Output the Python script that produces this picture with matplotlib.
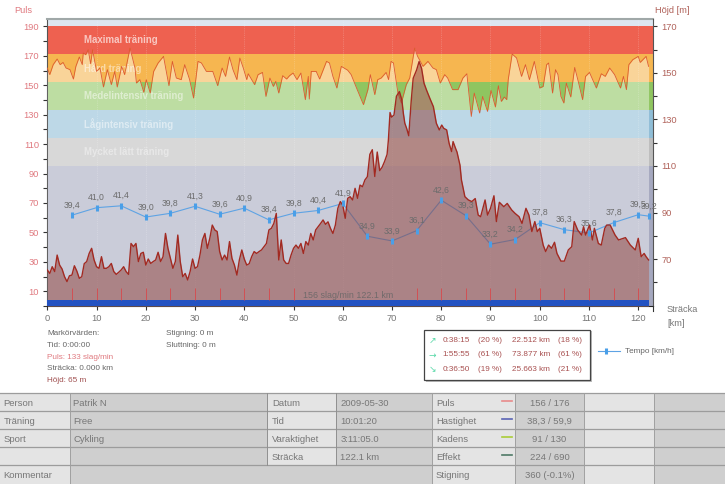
import matplotlib
matplotlib.use('Agg')
import matplotlib.pyplot as plt
from matplotlib.patches import Rectangle

plt.rcParams['font.family'] = ['Liberation Sans', 'DejaVu Sans']

# pulse curve (km, slag/min)
puls_km = [0, .5, 1.2, 2, 2.6, 3.2, 3.8, 4.6, 5.3, 5.8, 6.5, 7.1, 7.3, 7.8, 8.3, 8.8, 9.2, 10, 10.7, 11.4,
           12.2, 13, 13.7, 14.2, 15.1, 15.7, 16.8, 17.8, 18.1, 18.8, 19.6, 20.1, 20.9, 21.6, 22.5, 23.6, 24.7, 25.4, 26.2, 27.2,
           27.9, 28.9, 29.7, 30.6, 31.3, 32.3, 33.6, 34.6, 35.5, 36.2, 37, 37.7, 38.5, 39.1, 39.8, 40.5, 40.8, 41.5, 42.1, 42.8,
           43.7, 44.4, 45.2, 45.9, 46.4, 47, 47.8, 48.6, 49.2, 49.9, 50.7, 51.5, 52.4, 53, 53.2, 53.6, 54.6, 55.3, 56.7, 57.3,
           58, 58.8, 59.7, 61, 61.7, 62.8, 64.2, 65.1, 65.6, 66.5, 67.1, 67.8, 68.8, 69.3, 69.8, 70.3, 71.2, 71.9, 72.9, 73.6,
           74.6, 75.2, 76.3, 77.3, 78.3, 79, 79.8, 80.7, 81.3, 82.3, 83.4, 84.4, 85.2, 86.1, 86.7, 87.8, 88.4, 89.4, 90.1, 91,
           91.6, 92.2, 92.8, 93.3, 93.6, 94.4, 95.3, 96.3, 97.1, 97.9, 98.9, 100, 100.7, 101.4, 101.8, 102.6, 103.2, 103.7, 104.3, 104.9,
           105.4, 106.3, 107.1, 107.9, 108.7, 109.3, 110.1, 111.5, 112.5, 113.3, 114.2, 115.2, 116.4, 117, 117.6, 118.1, 118.9, 120, 120.4, 121.6,
           122.1]
puls_bpm = [161.7, 157.2, 164, 167.8, 164, 165.5, 161.7, 160.6, 154.2, 162.8, 169.2, 164, 171.9, 170.7, 174.1, 164.6, 174.1, 159.4, 161.7, 148.8,
            160.6, 150.4, 159.4, 148.8, 162.8, 157.2, 175.3, 161.7, 151.5, 153.8, 145.2, 153.8, 144.7, 159.4, 165.1, 169.6, 149.7, 166.2, 154.9, 153.8,
            164, 153.8, 141.3, 166.2, 165.1, 159.4, 159.4, 149.7, 161.7, 156, 169.2, 160.6, 153.8, 168.5, 161.7, 153.8, 157.8, 153.8, 150.4, 157.2,
            158.7, 142.4, 154.9, 149.2, 152.6, 144.7, 156.5, 154.2, 156.5, 158.3, 153.8, 158.3, 140.2, 156, 140.6, 159.4, 159.4, 154.2, 166.2, 165.1,
            156, 148.1, 162.8, 160.2, 157.2, 148.1, 136.8, 147, 157.2, 143.6, 153.8, 154.9, 158.7, 153.8, 166.2, 165.1, 144.7, 137.9, 150.4, 154.9,
            175.3, 169.6, 162.8, 166.2, 161.7, 160.6, 151.5, 157.2, 154.9, 147, 147, 154.9, 157.8, 128.8, 144.7, 131.1, 142.4, 132.2, 146.5, 135.2,
            149.7, 139, 142, 140.2, 153.8, 171.2, 168.5, 156, 164, 153.8, 166.2, 148.1, 149.2, 164, 165.1, 144.7, 160.6, 157.2, 142.4, 137.9,
            151.5, 142, 162.1, 151.5, 140.2, 156, 158.7, 148.1, 157.8, 156, 161.7, 157.2, 148.1, 156, 147, 164, 167.4, 169.6, 165.5, 169.6,
            162.8]

# height curve (km, m)
hojd_km = [0, .5, 1, 1.5, 2, 2.5, 3, 3.5, 4, 4.5, 5, 5.5, 6, 6.5, 7, 7.5, 8, 8.5, 9, 9.5,
           10, 10.5, 11, 11.5, 12, 12.5, 13, 13.5, 14, 14.5, 15, 15.5, 16, 16.5, 17, 17.5, 18, 18.5, 19, 19.5,
           20, 20.5, 21, 21.5, 22, 22.5, 23, 23.5, 24, 24.5, 25, 25.5, 26, 26.5, 27, 27.5, 28, 28.5, 29, 29.5,
           30, 30.5, 31, 31.5, 32, 32.5, 33, 33.5, 34, 34.5, 35, 35.5, 36, 36.5, 37, 37.5, 38, 38.5, 39, 39.5,
           40, 40.5, 41, 41.5, 42, 42.5, 43, 43.5, 44, 44.5, 45, 45.5, 46, 46.5, 47, 47.5, 48, 48.5, 49, 49.5,
           50, 50.5, 51, 51.5, 52, 52.5, 53, 53.5, 54, 54.5, 55, 55.5, 56, 56.5, 57, 57.5, 58, 58.5, 59, 59.5,
           60, 60.5, 61, 61.5, 62, 62.5, 63, 63.5, 64, 64.5, 65, 65.5, 66, 66.5, 67, 67.5, 68, 68.5, 69, 69.26,
           69.6, 69.9, 70.4, 70.9, 71.5, 72, 72.3, 72.6, 73, 73.4, 73.9, 74.3, 75, 75.5, 76, 76.5, 77, 77.7, 78.4, 79,
           79.6, 80.1, 80.5, 81.1, 81.6, 82.1, 82.4, 82.9, 83.2, 83.8, 84.1, 84.8, 85.5, 86.2, 86.9, 87.5, 88, 88.9, 89.4, 90,
           90.7, 91.2, 91.8, 92.7, 93.4, 94.3, 95, 95.8, 96.4, 97.2, 97.8, 98.4, 99, 99.5, 100, 100.7, 101.2, 101.8, 102.4, 103,
           103.5, 104.3, 105, 105.8, 106.5, 107, 107.7, 108.5, 108.9, 109.3, 110.1, 110.7, 111.1, 111.9, 112.5, 113.2, 113.6, 114.3, 115.3, 116,
           117.4, 118.4, 119.4, 120, 120.6, 121.2, 121.6, 122.1]
hojd_m = [65.3, 63.8, 66.7, 64.6, 71.7, 67.4, 65.7, 62.4, 60.3, 62.8, 63.1, 67.1, 64.8, 61.7, 62.4, 68, 68.9, 72.4, 74.6, 69.6,
          66.7, 66, 71, 66, 66, 66.7, 68.1, 64.6, 63.4, 64.3, 65.3, 66.7, 64.6, 63.4, 76.7, 75.3, 76.7, 68.9, 72.4, 72.9,
          67.4, 70, 68.1, 68.9, 69.6, 72.9, 68.9, 71, 81, 74.6, 70.3, 66, 68.9, 80.3, 68.9, 62.4, 63.8, 61, 64.6, 70,
          66, 66.7, 71.7, 78.2, 81, 74.6, 78.9, 84.6, 82.5, 81.8, 73.2, 69.6, 71.7, 69.6, 77.5, 70.3, 67.4, 63.1, 69.6, 73.9,
          70, 67.4, 68, 71, 73.2, 72.4, 73.2, 73.9, 75.3, 76.7, 82.5, 83.2, 85.3, 89.6, 69.6, 78.2, 69.6, 68.1, 68.1, 71.7,
          74.6, 76, 74.6, 76.7, 72.4, 77.5, 76, 81, 78.2, 82.5, 83.9, 85.3, 86.8, 84.9, 86, 83.2, 81, 84.6, 91.8, 94.7,
          93.2, 87.5, 96.1, 96.8, 95.4, 100.4, 96.1, 101.8, 101.1, 104, 105.4, 115, 117, 105.5, 116, 108, 109.5, 112, 115, 121,
          133, 131, 131.9, 140, 142, 138.4, 132.7, 128.4, 126, 123, 138, 147.7, 151.3, 154.9, 152, 145.6, 142.7, 139, 135.5, 128.4,
          125.5, 127.6, 126.2, 125.5, 119.7, 116.2, 120.5, 117.6, 116, 110.4, 104, 96.8, 95.4, 94.7, 96, 88.9, 88.2, 95.4, 88.9, 91.8,
          97.2, 86.1, 94.4, 92.5, 93.9, 91.1, 89.6, 88.2, 85.3, 91.8, 88.9, 81.8, 86.1, 81.8, 83.2, 76, 73.2, 76, 74.6, 77.2,
          72.4, 69.1, 69.1, 73.9, 75.3, 86.1, 82.5, 80.3, 83.9, 80.3, 84.6, 78.2, 83.2, 76.7, 76, 83.2, 84.6, 84.6, 80.3, 78.2,
          79.2, 76, 73.9, 78.9, 71, 72.4, 71, 69.6]

# tempo per 5 km
tempo_km = [5, 10, 15, 20, 25, 30, 35, 40, 45, 50, 55, 60, 65, 70, 75, 80, 85, 90, 95, 100, 105, 110, 115, 120, 122.1]
tempo_kmh = [39.4, 41.0, 41.4, 39.0, 39.8, 41.3, 39.6, 40.9, 38.4, 39.8, 40.4, 41.9, 34.9, 33.9, 36.1, 42.6, 39.3,
             33.2, 34.2, 37.8, 36.3, 35.6, 37.8, 39.5, 39.2]
km_marks = [5, 10, 15, 20, 25, 30, 35, 40, 45, 50, 75, 80, 85, 90, 95, 100, 105, 110, 115, 120]

# training zones
zone_edges = [190, 171, 152, 133, 114, 95, 0]
zone_colors = ['#ee6150', '#f6b650', '#8fc560', '#8fbdd6', '#bdbdbd', '#a5a8bf']
zone_names = ['Maximal träning', 'Hård träning', 'Medelintensiv träning', 'Lågintensiv träning', 'Mycket lätt träning']
zone_alpha = [0.65, 0.5, 0.5, 0.5, 0.4]

W, H = 725, 484
AX_L, AX_R, AX_T, AX_B = 47.3, 653, 19, 306
RED = '#e07a80'
BROWN = '#b0625a'
GREY = '#777777'

fig = plt.figure(figsize=(W / 100, H / 100), dpi=100)
rect = [AX_L / W, 1 - AX_B / H, (AX_R - AX_L) / W, (AX_B - AX_T) / H]
ax = fig.add_axes(rect)
ax.set_xlim(0, 123)
ax.set_ylim(0, 195)
ax.set_facecolor('#dde6f0')

for i, c in enumerate(zone_colors):
    ax.axhspan(zone_edges[i + 1], zone_edges[i], color=c, lw=0, zorder=1)
for i, name in enumerate(zone_names):
    ax.text(7.4, (zone_edges[i] + zone_edges[i + 1]) / 2, name, color='white', alpha=zone_alpha[i],
            fontsize=6.9, fontweight='bold', va='center', zorder=2)
for k in range(10, 121, 10):
    ax.axvline(k, color='white', lw=0.5, ls=':', alpha=0.35, zorder=2)

ax.fill_between(puls_km, puls_bpm, 0, color='white', alpha=0.42, lw=0, zorder=3)
ax.plot(puls_km, puls_bpm, color='#dc5a30', lw=0.6, zorder=4)

ax.set_xticks(range(0, 121, 10))
ax.set_yticks(range(10, 191, 20))
ax.set_yticks(range(0, 191, 20), minor=True)
ax.tick_params(axis='x', length=3, width=0.8, color='#333333', labelcolor=GREY, labelsize=6.7, pad=3)
ax.tick_params(axis='y', which='both', length=3, width=0.8, color='#333333')
ax.tick_params(axis='y', labelcolor=RED, labelsize=6.7, pad=3)
ax.spines['right'].set_visible(False)
ax.spines['left'].set_color('#555555')
ax.spines['bottom'].set_color('#222222')
ax.spines['top'].set_color('#a0a8a8')
ax.spines['top'].set_linewidth(1.5)

# tempo line goes under the height fill, markers above it
ax_line = ax.twinx()
ax_line.set_ylim(20, 81.3)
ax_line.set_zorder(2)
ax_line.axis('off')
ax_line.plot(tempo_km, tempo_kmh, color='#5ea3e4', lw=0.8)

ax2 = ax.twinx()
ax2.set_ylim(49.8, 173.2)
ax2.set_zorder(3)
ax2.fill_between(hojd_km, hojd_m, 49.8, color='#8f403a', alpha=0.52, lw=0)
ax2.plot(hojd_km, hojd_m, color='#a22a22', lw=1.0)
ax2.set_yticks(range(70, 171, 20))
ax2.set_yticks(range(60, 171, 20), minor=True)
ax2.tick_params(axis='y', which='both', length=3, width=0.8, color='#333333')
ax2.tick_params(axis='y', labelcolor=BROWN, labelsize=6.7, pad=3)
for s in ['left', 'top', 'bottom']:
    ax2.spines[s].set_visible(False)
ax2.spines['right'].set_color('#555555')

# km marks and the blue bar at the bottom sit on top of the fill
ax_bar = ax.twinx()
ax_bar.set_ylim(0, 195)
ax_bar.set_zorder(4)
ax_bar.axis('off')
ax_bar.vlines(km_marks, 4, 12, color='#d8484c', lw=0.6)
ax_bar.fill_between([0, 122.1], 0, 4, color='#2352c2', lw=0)

ax_pts = ax.twinx()
ax_pts.set_ylim(20, 81.3)
ax_pts.set_zorder(4.5)
ax_pts.axis('off')
ax_pts.plot(tempo_km, tempo_kmh, ls='none', marker='|', ms=5, mew=2.2, color='#4a9fe8')
for k, t in zip(tempo_km, tempo_kmh):
    ax_pts.annotate(f'{t:.1f}'.replace('.', ','), (k, t), xytext=(0, 4), textcoords='offset points',
                    ha='center', va='bottom', fontsize=6.2, color='#6c6c6c')

# everything around the plot, in pixels
ov = fig.add_axes([0, 0, 1, 1], zorder=5)
ov.set_xlim(0, W)
ov.set_ylim(H, 0)
ov.axis('off')


def txt(x, y, s, color=GREY, size=5.9, **kw):
    ov.text(x, y + 0.8, s, color=color, fontsize=size, va='center', **kw)


txt(347.7, 295, '156 slag/min 122.1 km', color='#666666', size=6.4, ha='center', alpha=0.85)
txt(14, 10, 'Puls', color=RED, size=6.7)
txt(655, 10, 'Höjd [m]', color=BROWN, size=6.7)
txt(667, 309, 'Sträcka', size=6.7)
txt(667, 323, '[km]', size=6.7)
ov.plot([AX_R, AX_R], [AX_B, 311], color='#333333', lw=0.8)

marker_lines = ['Markörvärden:', 'Tid: 0:00:00', 'Puls: 133 slag/min', 'Sträcka: 0.000 km', 'Höjd: 65 m']
marker_colors = ['#666666', '#666666', RED, '#666666', '#a05050']
for i, s in enumerate(marker_lines):
    txt(47.5, 333 + i * 11.7, s, color=marker_colors[i])
txt(166, 333, 'Stigning: 0 m', color='#666666')
txt(166, 345, 'Sluttning: 0 m', color='#666666')

# up/flat/down box
ov.add_patch(Rectangle((426, 331), 166, 51, fc='#bbbbbb', ec='none', zorder=1))
ov.add_patch(Rectangle((424.5, 329.5), 165.5, 50.5, fc='white', ec='#444444', lw=0.9, zorder=2))
box_rows = [('↗', '0:38:15', '(20 %)', '22.512 km', '(18 %)'),
            ('→', '1:55:55', '(61 %)', '73.877 km', '(61 %)'),
            ('↘', '0:36:50', '(19 %)', '25.663 km', '(21 %)')]
for i, row in enumerate(box_rows):
    y = 340.3 + i * 14.7
    ov.text(432.5, y, row[0], color='#58d8a8', fontsize=6.5, family='DejaVu Sans', ha='center', va='center', zorder=3)
    for x, s in zip([442.7, 478.3, 511.7, 558.3], row[1:]):
        ov.text(x, y, s, color='#a85050', fontsize=5.9, va='center', zorder=3)

ov.plot([598, 620], [351, 351], color='#5ea3e4', lw=0.8)
ov.plot([606], [351], ls='none', marker='|', ms=5, mew=2.2, color='#4a9fe8')
txt(625, 350.5, 'Tempo [km/h]', color='#666666')

# info table
col_x = [0, 70, 267, 336, 432, 515, 584.5, 654, 725]
row_y = [392.5, 410.5, 428.5, 446.5, 464.5, 484]
cell_light = '#e4e4e4'
cell_dark = '#cfcfcf'
for r in range(5):
    for c in range(8):
        if r == 4 and c in (1, 2, 3):
            continue
        col = cell_light if c % 2 == 0 else cell_dark
        ov.add_patch(Rectangle((col_x[c], row_y[r]), col_x[c + 1] - col_x[c], row_y[r + 1] - row_y[r],
                               fc=col, ec='none', zorder=1))
ov.add_patch(Rectangle((col_x[1], row_y[4]), col_x[4] - col_x[1], row_y[5] - row_y[4], fc=cell_dark, ec='none', zorder=1))
for y in row_y[:-1]:
    ov.plot([0, W], [y, y], color='#9c9c9c', lw=0.9, zorder=2)
for x in [70, 432, 515, 584.5, 654]:
    ov.plot([x, x], [row_y[0], H], color='#a0a0a0', lw=0.7, zorder=2)
for x in [267, 336]:
    ov.plot([x, x], [row_y[0], row_y[4]], color='#909090', lw=0.7, zorder=2)

tab_col1 = ['Person', 'Träning', 'Sport', '', 'Kommentar']
tab_col2 = ['Patrik N', 'Free', 'Cykling', '', '']
tab_col3 = ['Datum', 'Tid', 'Varaktighet', 'Sträcka']
tab_col4 = ['2009-05-30', '10:01:20', '3:11:05.0', '122.1 km']
tab_col5 = ['Puls', 'Hastighet', 'Kadens', 'Effekt', 'Stigning']
tab_col6 = ['156 / 176', '38,3 / 59,9', '91 / 130', '224 / 690', '360 (-0.1%)']
swatches = ['#e88a8a', '#5a64b4', '#aacc38', '#4f7a66']
for i in range(5):
    y = row_y[i] + 9.7
    txt(3.5, y, tab_col1[i], size=6.8)
    txt(73.5, y, tab_col2[i], size=6.8)
    txt(436, y, tab_col5[i], size=6.8)
    txt(549.5, y, tab_col6[i], size=6.8, ha='center')
    if i < 4:
        txt(272, y, tab_col3[i], size=6.8)
        txt(340.5, y, tab_col4[i], size=6.8)
        ov.plot([502, 512], [y - 1, y - 1], color=swatches[i], lw=1.2, zorder=3)

fig.savefig('out.png', dpi=100)
